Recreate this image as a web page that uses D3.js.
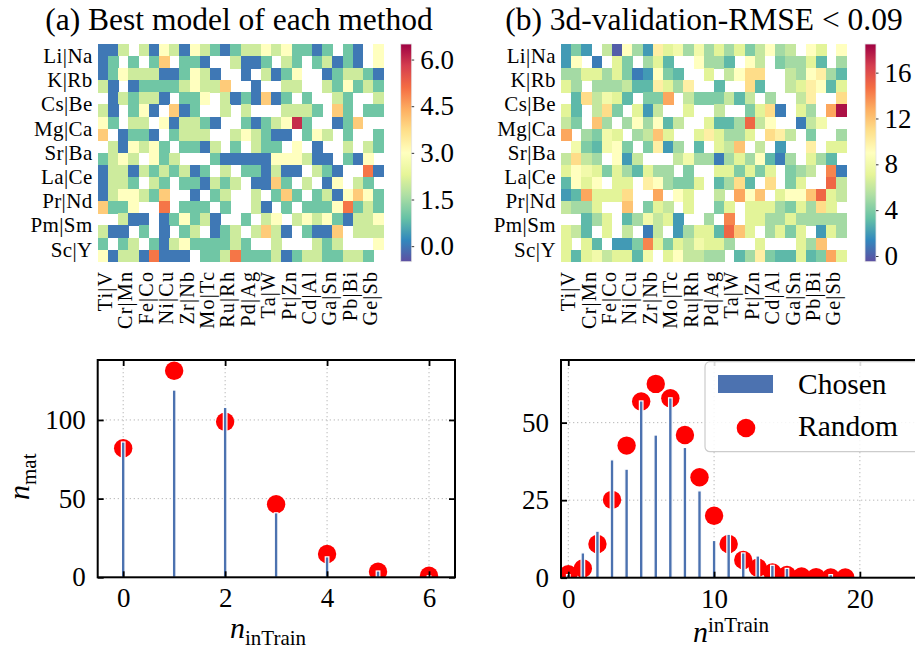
<!DOCTYPE html>
<html>
<head>
<meta charset="utf-8">
<script src="https://cdn.jsdelivr.net/npm/d3@7"></script>
<style>
  body { margin: 0; background: #fff; }
  svg { display: block; }
  text { font-family: "Liberation Serif", "DejaVu Serif", serif; fill: #000; }
</style>
</head>
<body>
<svg id="fig" width="915" height="650"></svg>
<script>
// ---------------------------------------------------------------------------
// Data
// ---------------------------------------------------------------------------
const _ = null; // empty cell (no model)

const rowPairs = ["Li|Na", "K|Rb", "Cs|Be", "Mg|Ca", "Sr|Ba", "La|Ce", "Pr|Nd", "Pm|Sm", "Sc|Y"];
const colPairs = ["Ti|V", "Cr|Mn", "Fe|Co", "Ni|Cu", "Zr|Nb", "Mo|Tc", "Ru|Rh",
                  "Pd|Ag", "Ta|W", "Pt|Zn", "Cd|Al", "Ga|Sn", "Pb|Bi", "Ge|Sb"];

// (a) n_inTrain of the best model of each method, one row per element
const bestModelGrid = [
  [0,0,2,_,2,0,3,2,0,3,2,1,0,1, 2,2,3,2,3,1,1,0,1,_,1,0,_,3],
  [0,1,_,1,_,1,4,_,1,1,0,_,_,2, 0,0,1,_,2,1,_,1,2,0,1,0,_,3],
  [0,1,3,2,2,2,0,0,1,3,2,0,_,_, 0,_,2,0,1,3,_,_,0,1,2,2,1,0],
  [2,0,_,0,1,1,1,1,2,3,2,2,4,_, _,0,_,_,2,2,_,_,2,1,3,1,2,1],
  [_,0,2,1,2,2,0,_,1,1,3,_,2,0, 1,0,4,0,1,_,1,_,_,2,1,_,_,2],
  [2,0,_,1,3,0,_,4,0,1,_,_,2,_, 2,_,_,_,2,2,2,1,_,4,1,_,1,1],
  [3,1,_,2,2,_,3,0,2,2,1,0,_,_, 1,0,1,2,3,6,1,_,_,0,1,4,_,_],
  [4,_,0,1,1,0,_,1,2,2,2,_,_,2, 3,2,1,0,0,_,1,3,2,_,1,_,_,1],
  [_,2,0,3,2,3,1,_,1,1,0,2,_,1, _,2,1,1,_,3,_,0,_,_,2,_,2,1],
  [1,2,3,2,_,3,1,2,_,_,_,1,0,0, 0,0,0,3,3,3,2,0,0,_,1,0,3,_],
  [0,2,2,0,2,1,2,1,2,0,1,_,2,_, 1,1,0,2,0,0,_,2,1,0,_,_,5,0],
  [0,2,2,1,_,2,1,_,1,1,0,2,1,2, _,0,0,4,1,_,2,_,0,3,_,2,1,_],
  [0,2,3,3,2,1,4,_,_,0,_,1,2,_, _,2,_,1,4,1,_,1,2,0,3,4,3,1],
  [4,1,1,3,_,_,5,_,1,1,1,_,1,_, _,2,0,_,1,_,1,1,1,3,5,1,2,1],
  [_,_,2,0,0,_,0,1,3,1,2,0,_,_, 1,_,2,3,_,2,3,2,3,1,0,2,2,3],
  [2,0,0,_,1,_,0,_,1,2,_,0,1,2, _,2,4,2,0,_,1,0,0,4,_,2,2,2],
  [1,_,1,2,_,1,0,2,3,1,1,1,1,2, 1,_,_,2,_,_,_,2,1,2,_,_,_,3],
  [3,0,2,2,0,5,0,0,0,_,1,1,2,5, 1,1,1,2,0,1,2,2,1,1,2,2,1,_]
];

// (b) n_inTrain of models with 3d-validation RMSE below 0.09
const lowRmseGrid = [
  [2,4,2,_,6,0,9,5,2,10,7,8,5,8, 5,7,5,7,4,6,9,5,6,_,9,7,_,9],
  [2,9,_,1,_,7,4,_,5,7,3,_,_,9, 5,5,3,_,9,6,_,4,5,5,7,3,_,5],
  [5,5,7,7,5,7,4,1,2,9,4,3,_,_, 7,_,6,9,11,11,_,_,6,5,9,10,5,3],
  [7,5,_,5,5,5,6,3,3,10,7,5,10,_, _,3,_,_,11,3,_,_,6,7,10,9,3,7],
  [_,3,11,6,8,7,3,_,4,4,13,_,6,4, 4,4,6,3,6,_,5,_,_,6,10,_,_,11],
  [7,3,_,6,11,4,_,7,2,6,_,_,7,_, _,6,_,_,4,7,11,1,_,7,5,_,13,18],
  [6,4,_,12,5,_,5,9,5,9,3,6,_,_, 7,3,3,5,15,6,9,_,_,1,6,8,_,_],
  [13,_,5,4,8,7,_,5,6,12,7,_,_,7, 10,7,5,5,7,_,11,10,6,_,4,_,_,5],
  [_,8,4,3,8,9,4,_,4,10,2,5,_,3, _,7,6,12,_,6,_,2,_,_,10,_,7,7],
  [6,11,6,5,_,9,2,6,_,_,_,6,8,5, 5,1,5,7,5,9,3,1,5,_,7,5,3,_],
  [7,9,8,7,4,7,5,3,7,5,5,_,4,_, _,7,7,4,7,4,7,_,4,5,6,_,14,1],
  [3,9,7,9,_,7,7,_,10,9,5,4,4,7, _,3,5,11,3,_,11,_,4,7,_,_,15,6],
  [2,3,13,7,7,7,11,_,_,13,_,9,7,_, _,6,_,13,9,12,_,7,9,9,12,15,7,6],
  [6,5,5,7,_,_,12,_,4,7,6,_,7,_, _,4,7,_,7,7,7,5,4,7,5,11,7,_],
  [_,_,3,5,7,_,3,5,8,6,7,2,_,_, 5,_,14,_,7,7,5,5,7,5,5,5,5,5],
  [7,6,3,_,7,_,6,_,1,6,_,2,5,7, 7,3,15,12,7,_,5,7,4,7,_,2,7,5],
  [7,_,7,3,_,2,2,4,14,7,4,7,6,8, 7,7,5,_,_,7,_,_,_,7,5,12,_,_],
  [7,3,7,8,6,7,7,3,8,_,7,9,6,6, 5,5,_,3,5,10,4,3,3,7,3,4,13,7]
];

const colorTicksA = [0, 1.5, 3, 4.5, 6];
const colorTicksB = [0, 4, 8, 12, 16];

// histograms of n_inTrain
const nTrainA  = [0, 1, 2, 3, 4, 5, 6];
const chosenA  = [86, 119, 108, 41, 13, 4, 1];
const randomA  = [82, 131.3, 98.9, 46.4, 14.8, 3.6, 1.0];
const xTicksA  = [0, 2, 4, 6];
const yTicksA  = [0, 50, 100];

const nTrainB  = [0, 1, 2, 3, 4, 5, 6, 7, 8, 9, 10, 11, 12, 13, 14, 15, 16, 17, 18, 19];
const chosenB  = [1, 8, 15, 38, 35, 57, 46, 58, 42, 28, 12, 14, 8, 7, 4, 3, 0, 0, 1, 0];
const randomB  = [1.1, 3.0, 10.9, 25.1, 42.6, 56.8, 62.5, 57.9, 46.0, 32.4, 20.0, 10.9,
                  5.7, 3.2, 1.7, 0.9, 0.4, 0.2, 0.1, 0.05];
const xTicksB  = [0, 10, 20];
const yTicksB  = [0, 25, 50];

// ---------------------------------------------------------------------------
// Styling helpers
// ---------------------------------------------------------------------------
const svg = d3.select("#fig");
const BAR_BLUE = "#4c72b0";
const DOT_RED = "#ff0000";
const ROW_LABEL_SIZE = 21;
const COL_LABEL_SIZE = 20.2;

// Spectral, reversed (low = purple/blue, high = red), piecewise linear
const spectralStops = ["#9e0142", "#d53e4f", "#f46d43", "#fdae61", "#fee08b", "#ffffbf",
                       "#e6f598", "#abdda4", "#66c2a5", "#3288bd", "#5e4fa2"].reverse();
function spectralScale(lo, hi) {
  return d3.scaleLinear()
    .domain(spectralStops.map((_, i) => lo + (hi - lo) * i / (spectralStops.length - 1)))
    .range(spectralStops)
    .interpolate(d3.interpolateRgb)
    .clamp(true);
}

function mathLabel(sel, base, script, up, size) {
  sel.append("tspan").attr("font-style", "italic").text(base);
  sel.append("tspan")
    .attr("font-size", size * 0.7)
    .attr("dy", up ? -size * 0.33 : size * 0.22)
    .text(script);
}

// ---------------------------------------------------------------------------
// Heatmap with colour bar
// ---------------------------------------------------------------------------
function heatmap(opt) {
  const { grid, left, top, width, height, lo, hi, ticks, fmt, cbLeft, title, titleX } = opt;
  const color = spectralScale(lo, hi);
  const nRows = grid.length, nCols = grid[0].length;
  const x = d3.scaleBand().domain(d3.range(nCols)).range([left, left + width]);
  const y = d3.scaleBand().domain(d3.range(nRows)).range([top, top + height]);

  const g = svg.append("g");
  const cells = [];
  grid.forEach((row, r) => row.forEach((v, c) => { if (v !== null) cells.push({ r, c, v }); }));
  g.selectAll("rect.cell").data(cells).join("rect")
    .attr("class", "cell")
    .attr("x", d => x(d.c))
    .attr("y", d => y(d.r))
    .attr("width", x.bandwidth() + 0.4)
    .attr("height", y.bandwidth() + 0.4)
    .attr("fill", d => color(d.v))
    .attr("shape-rendering", "crispEdges");

  // row labels centred on each pair of rows
  g.selectAll("text.rowlab").data(rowPairs).join("text")
    .attr("class", "rowlab")
    .attr("x", left - 5)
    .attr("y", (d, i) => y(2 * i) + y.bandwidth())
    .attr("text-anchor", "end")
    .attr("dominant-baseline", "central")
    .attr("font-size", ROW_LABEL_SIZE)
    .attr("letter-spacing", 0.4)
    .text(d => d);

  // column labels, rotated
  g.selectAll("text.collab").data(colPairs).join("text")
    .attr("class", "collab")
    .attr("transform", (d, i) => `translate(${x(2 * i) + x.bandwidth() - 3},${top + height + 9}) rotate(-90)`)
    .attr("text-anchor", "end")
    .attr("dominant-baseline", "central")
    .attr("font-size", COL_LABEL_SIZE)
    .attr("letter-spacing", 1.2)
    .text(d => d);

  // colour bar
  const gradId = "grad" + Math.round(cbLeft);
  const grad = svg.append("defs").append("linearGradient")
    .attr("id", gradId).attr("x1", 0).attr("y1", 1).attr("x2", 0).attr("y2", 0);
  d3.range(0, 1.0001, 0.02).forEach(t => {
    grad.append("stop").attr("offset", t).attr("stop-color", color(lo + t * (hi - lo)));
  });
  const cbW = 11;
  const cy = d3.scaleLinear().domain([lo, hi]).range([top + height, top]);
  g.append("rect")
    .attr("x", cbLeft).attr("y", top).attr("width", cbW).attr("height", height)
    .attr("fill", `url(#${gradId})`)
    .attr("stroke", "#e4e4e4").attr("stroke-width", 0.8);
  const ax = g.append("g")
    .attr("transform", `translate(${cbLeft + cbW},0)`)
    .call(d3.axisRight(cy).tickValues(ticks).tickFormat(fmt).tickSize(2.5).tickPadding(6));
  ax.select(".domain").remove();
  ax.selectAll(".tick line").attr("stroke", "#000").attr("stroke-width", 0.8);
  ax.selectAll("text").attr("font-size", 27).attr("font-family", "Liberation Serif, serif");

  svg.append("text")
    .attr("x", titleX).attr("y", 29.5)
    .attr("text-anchor", "middle")
    .attr("font-size", 31.5)
    .text(title);
}

heatmap({
  grid: bestModelGrid, left: 97.7, top: 44, width: 285.6, height: 217.7,
  lo: -0.5, hi: 6.5, ticks: colorTicksA, fmt: d3.format(".1f"), cbLeft: 400.7,
  title: "(a) Best model of each method", titleX: 239
});
heatmap({
  grid: lowRmseGrid, left: 561, top: 44, width: 285.6, height: 217.7,
  lo: -0.5, hi: 18.5, ticks: colorTicksB, fmt: d3.format("d"), cbLeft: 865,
  title: "(b) 3d-validation-RMSE < 0.09", titleX: 704
});

// ---------------------------------------------------------------------------
// Histogram panels: chosen models (bars) vs random choice (dots)
// ---------------------------------------------------------------------------
function histPanel(opt) {
  const { n, chosen, random, left, right, top, bottom, xDomain, yDomain, xTicks, yTicks, id } = opt;
  const x = d3.scaleLinear().domain(xDomain).range([left, right]);
  const y = d3.scaleLinear().domain(yDomain).range([bottom, top]);
  const g = svg.append("g");

  svg.append("defs").append("clipPath").attr("id", id)
    .append("rect").attr("x", left).attr("y", top).attr("width", right - left).attr("height", bottom - top);

  // dotted grid
  const grid = g.append("g").attr("stroke", "#b8b8b8").attr("stroke-width", 1)
    .attr("stroke-dasharray", "1.3,2.7").attr("clip-path", `url(#${id})`);
  grid.selectAll("line.vx").data(xTicks).join("line")
    .attr("x1", d => x(d)).attr("x2", d => x(d)).attr("y1", top).attr("y2", bottom);
  grid.selectAll("line.hy").data(yTicks.filter(t => t > 0)).join("line")
    .attr("x1", left).attr("x2", right).attr("y1", d => y(d)).attr("y2", d => y(d));

  const plot = g.append("g").attr("clip-path", `url(#${id})`);
  plot.selectAll("circle").data(n).join("circle")
    .attr("cx", d => x(d))
    .attr("cy", (d, i) => y(random[i]))
    .attr("r", 9.2)
    .attr("fill", DOT_RED);

  const barW = 3.6;
  plot.selectAll("rect").data(n.filter((d, i) => chosen[i] > 0)).join("rect")
    .attr("x", d => x(d) - barW / 2)
    .attr("y", d => y(chosen[n.indexOf(d)]))
    .attr("width", barW)
    .attr("height", d => y(0) - y(chosen[n.indexOf(d)]))
    .attr("fill", BAR_BLUE)
    .attr("stroke", "#fff").attr("stroke-width", 1.2);

  // axes with inward ticks on all sides
  const tick = sel => {
    sel.select(".domain").remove();
    sel.selectAll(".tick line").attr("stroke", "#000").attr("stroke-width", 1.8);
    sel.selectAll("text").attr("font-size", 27).attr("font-family", "Liberation Serif, serif");
  };
  g.append("g").attr("transform", `translate(0,${bottom})`)
    .call(d3.axisBottom(x).tickValues(xTicks).tickFormat(d3.format("d")).tickSize(-6).tickPadding(11))
    .call(tick);
  g.append("g").attr("transform", `translate(0,${top})`)
    .call(d3.axisTop(x).tickValues(xTicks).tickFormat("").tickSize(-6))
    .call(tick);
  g.append("g").attr("transform", `translate(${left},0)`)
    .call(d3.axisLeft(y).tickValues(yTicks).tickFormat(d3.format("d")).tickSize(-6).tickPadding(12))
    .call(tick);
  g.append("g").attr("transform", `translate(${right},0)`)
    .call(d3.axisRight(y).tickValues(yTicks).tickFormat("").tickSize(-6))
    .call(tick);

  g.append("rect")
    .attr("x", left).attr("y", top).attr("width", right - left).attr("height", bottom - top)
    .attr("fill", "none").attr("stroke", "#000").attr("stroke-width", 2);
  return { x, y };
}

histPanel({
  n: nTrainA, chosen: chosenA, random: randomA,
  left: 97.7, right: 455, top: 360, bottom: 577.3,
  xDomain: [-0.5, 6.51], yDomain: [0, 138.1], xTicks: xTicksA, yTicks: yTicksA, id: "clipA"
});
histPanel({
  n: nTrainB, chosen: chosenB, random: randomB,
  left: 561, right: 930, top: 360, bottom: 577.7,
  xDomain: [-0.5, 24.81], yDomain: [0, 70.2], xTicks: xTicksB, yTicks: yTicksB, id: "clipB"
});

// axis titles
mathLabel(svg.append("text").attr("x", 230).attr("y", 638).attr("font-size", 30), "n", "inTrain", false, 30);
mathLabel(svg.append("text").attr("x", 693).attr("y", 642).attr("font-size", 30), "n", "inTrain", true, 30);
mathLabel(svg.append("text").attr("transform", "translate(29,500) rotate(-90)").attr("font-size", 30), "n", "mat", false, 30);

// legend
const lg = svg.append("g");
lg.append("rect")
  .attr("x", 705).attr("y", 361.7).attr("width", 225).attr("height", 90).attr("rx", 5)
  .attr("fill", "#fff").attr("fill-opacity", 0.85).attr("stroke", "#cccccc").attr("stroke-width", 1.2);
lg.append("rect").attr("x", 718).attr("y", 375).attr("width", 55).attr("height", 18).attr("fill", BAR_BLUE);
lg.append("text").attr("x", 798).attr("y", 393.5).attr("font-size", 29.5).text("Chosen");
lg.append("circle").attr("cx", 746).attr("cy", 428).attr("r", 9.3).attr("fill", DOT_RED);
lg.append("text").attr("x", 798).attr("y", 436).attr("font-size", 29.5).text("Random");
</script>
</body>
</html>
